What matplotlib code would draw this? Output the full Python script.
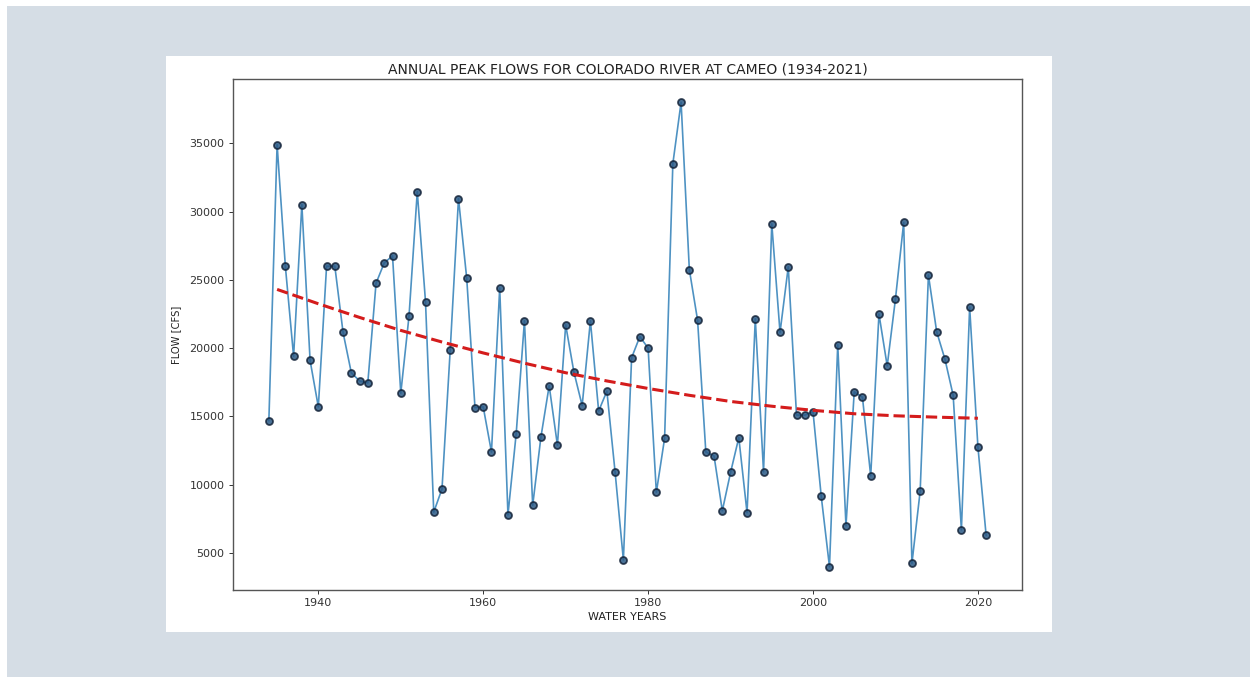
import numpy as np
import matplotlib
matplotlib.use("Agg")
import matplotlib.pyplot as plt
from matplotlib.patches import Rectangle

# annual peak flow values (cfs)
years = list(range(1934, 2022))
peak_flows = [
    14700, 34900, 26000, 19400, 30500, 19100, 15700, 26000, 26000, 21150,  # 1934-1943
    18200, 17600, 17450, 24750, 26250, 26750, 16700, 22350, 31450, 23400,  # 1944-1953
    8000, 9700, 19900, 30950, 25100, 15650, 15700, 12400, 24400, 7800,     # 1954-1963
    13750, 22000, 8500, 13500, 17250, 12900, 21700, 18250, 15800, 22000,   # 1964-1973
    15400, 16850, 10900, 4500, 19300, 20850, 20000, 9450, 13400, 33500,    # 1974-1983
    38000, 25750, 22050, 12400, 12100, 8100, 10900, 13450, 7950, 22150,    # 1984-1993
    10950, 29100, 21150, 25950, 15100, 15100, 15350, 9150, 4000, 20250,    # 1994-2003
    7000, 16800, 16400, 10650, 22500, 18700, 23600, 29200, 4250, 9550,     # 2004-2013
    25350, 21200, 19200, 16550, 6700, 23000, 12800, 6300,                  # 2014-2021
]

# red dashed trend line, every 5 years
trend_years = list(range(1935, 2021, 5))
trend_flows = [24300, 23250, 22250, 21300, 20450, 19650, 18900, 18200, 17600,
               17050, 16550, 16100, 15750, 15450, 15200, 15050, 14950, 14870]

title = "ANNUAL PEAK FLOWS FOR COLORADO RIVER AT CAMEO (1934-2021)"
x_label = "WATER YEARS"
y_label = "FLOW [CFS]"

W, H = 1250, 677
fig = plt.figure(figsize=(W / 100, H / 100), dpi=100)
fig.patch.set_facecolor("white")

# grey slide background and the white card the plot sits on
fig.add_artist(Rectangle((7 / W, 0), (W - 7) / W, (H - 6) / H,
                         transform=fig.transFigure, facecolor="#d5dde5",
                         edgecolor="none", zorder=0))
fig.add_artist(Rectangle((166 / W, 1 - 632 / H), (1052 - 166) / W, (632 - 56) / H,
                         transform=fig.transFigure, facecolor="white",
                         edgecolor="none", zorder=0))

ax = fig.add_axes([233 / W, 1 - 590 / H, (1022 - 233) / W, (590 - 79) / H])
ax.set_facecolor("white")

ax.plot(years, peak_flows, color="#2f7fb8", alpha=0.85, linewidth=1.2, marker="o",
        markersize=5, markerfacecolor="#2b5a86", markeredgecolor="#14243a",
        markeredgewidth=1.3, zorder=2)

ax.plot(trend_years, trend_flows, color="#d41c1c", linestyle="--",
        linewidth=2.2, zorder=3)

ax.set_title(title, fontsize=10, color="#222222", pad=4)
ax.set_xlabel(x_label, fontsize=8, color="#222222", labelpad=3)
ax.set_ylabel(y_label, fontsize=7.2, color="#222222", labelpad=6)
ax.tick_params(labelsize=8, colors="#333333", length=3, width=0.7, pad=3)
for s in ax.spines.values():
    s.set_color("#555555")
    s.set_linewidth(1.0)

fig.savefig("out.png", dpi=100, facecolor=fig.get_facecolor())
